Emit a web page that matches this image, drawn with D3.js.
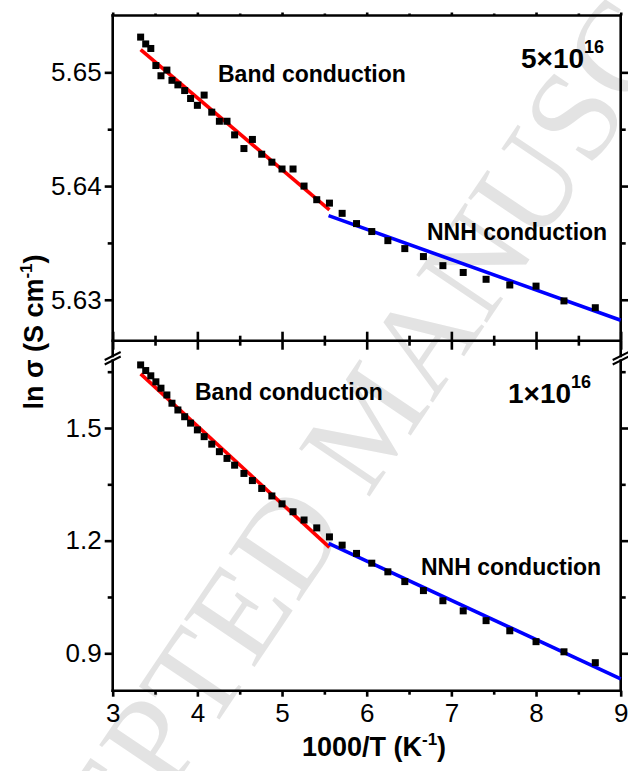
<!DOCTYPE html>
<html>
<head>
<meta charset="utf-8">
<script src="https://cdn.jsdelivr.net/npm/d3@7"></script>
<style>
  html, body { margin: 0; padding: 0; background: #fff; }
  svg { display: block; }
  text { font-family: "Liberation Sans", Arial, Helvetica, sans-serif; }
</style>
</head>
<body>
<svg id="chart" width="628" height="771"></svg>
<script>
// 1000/T (K^-1) of each measurement
const invT = [3.33, 3.39, 3.45, 3.51, 3.57, 3.64, 3.70, 3.77, 3.85, 3.92,
              4.00, 4.08, 4.17, 4.26, 4.35, 4.44, 4.55, 4.65, 4.76, 4.88,
              5.00, 5.13, 5.26, 5.41, 5.56, 5.71, 5.88, 6.06, 6.25, 6.45,
              6.67, 6.90, 7.14, 7.41, 7.69, 8.00, 8.33, 8.70];

// ln sigma, 5x10^16 sample
const lnSigmaHigh = [5.6531, 5.6525, 5.6521, 5.6506, 5.6497, 5.6502, 5.6493, 5.6489, 5.6484, 5.6477,
                     5.6471, 5.6480, 5.6465, 5.6457, 5.6457, 5.6445, 5.6433, 5.6441, 5.6428, 5.6421,
                     5.6415, 5.6415, 5.6400, 5.6388, 5.6385, 5.6376, 5.6367, 5.6360, 5.6352, 5.6345,
                     5.6338, 5.6330, 5.6324, 5.6318, 5.6313, 5.6312, 5.6299, 5.6293];

// ln sigma, 1x10^16 sample
const lnSigmaLow = [1.668, 1.653, 1.639, 1.623, 1.606, 1.588, 1.566, 1.548, 1.530, 1.513,
                    1.495, 1.477, 1.457, 1.437, 1.419, 1.401, 1.379, 1.360, 1.339, 1.319,
                    1.298, 1.277, 1.255, 1.234, 1.210, 1.188, 1.166, 1.140, 1.117, 1.091,
                    1.067, 1.040, 1.013, 0.987, 0.960, 0.931, 0.904, 0.875];

// Linear fits: band conduction (red) and nearest-neighbour hopping (blue)
const bandFitX = [3.33, 5.56];
const bandFitHigh = [5.6520, 5.6379];
const bandFitLow = [1.644, 1.182];
const nnhFitX = [5.55, 9.0];
const nnhFitHigh = [5.6374, 5.6282];
const nnhFitLow = [1.193, 0.832];

// Axis ticks
const xTicks = [3, 4, 5, 6, 7, 8, 9];
const xMinorTicks = [3.5, 4.5, 5.5, 6.5, 7.5, 8.5];
const yTicksHigh = [5.63, 5.64, 5.65];
const yMinorHigh = [5.635, 5.645];
const yTicksLow = [0.9, 1.2, 1.5];
const yMinorLow = [1.05, 1.35, 1.65];

const svg = d3.select("#chart");

const L = 112.7, R = 620.7, T = 15.5, M = 340.7, B = 690.7;

const x = d3.scaleLinear().domain([3, 9]).range([L, R]);
const yHigh = d3.scaleLinear().domain([5.6264, 5.6550]).range([M, T]);
const yLow = d3.scaleLinear().domain([0.8004, 1.7325]).range([B, M]);

// Watermark
svg.append("text")
  .attr("transform", "translate(405,444) rotate(-56)")
  .attr("text-anchor", "middle")
  .style("font-family", "'Liberation Serif', 'Times New Roman', serif")
  .style("font-size", "130px")
  .attr("fill", "#e3e3e3")
  .text("ACCEPTED MANUSCRIPT");

const axisColor = "#000";
const axisW = 2.6;

function styleAxis(g) {
  g.select(".domain").remove();
  g.selectAll(".tick line").attr("stroke", axisColor).attr("stroke-width", axisW);
  g.selectAll(".tick text")
    .attr("fill", "#000")
    .style("font-family", "'Liberation Sans', Arial, sans-serif");
}

// Left axis, upper part
svg.append("g").attr("transform", `translate(${L},0)`)
  .call(d3.axisLeft(yHigh).tickValues(yTicksHigh).tickFormat(d3.format(".2f")).tickSize(8).tickPadding(3))
  .call(styleAxis)
  .call(g => g.selectAll(".tick text").style("font-size", "26px"));
svg.append("g").attr("transform", `translate(${L},0)`)
  .call(d3.axisLeft(yHigh).tickValues(yMinorHigh).tickFormat("").tickSize(5))
  .call(styleAxis);

// Left axis, lower part
svg.append("g").attr("transform", `translate(${L},0)`)
  .call(d3.axisLeft(yLow).tickValues(yTicksLow).tickFormat(d3.format(".1f")).tickSize(8).tickPadding(3))
  .call(styleAxis)
  .call(g => g.selectAll(".tick text").style("font-size", "26px"));
svg.append("g").attr("transform", `translate(${L},0)`)
  .call(d3.axisLeft(yLow).tickValues(yMinorLow).tickFormat("").tickSize(5))
  .call(styleAxis);

// Right axis ticks
[[yHigh, yTicksHigh, 8], [yHigh, yMinorHigh, 5], [yLow, yTicksLow, 8], [yLow, yMinorLow, 5]].forEach(([sc, tv, sz]) => {
  svg.append("g").attr("transform", `translate(${R},0)`)
    .call(d3.axisRight(sc).tickValues(tv).tickFormat("").tickSize(sz))
    .call(styleAxis);
});

// Bottom axis
svg.append("g").attr("transform", `translate(0,${B})`)
  .call(d3.axisBottom(x).tickValues(xTicks).tickFormat(d3.format("d")).tickSize(6).tickPadding(7))
  .call(styleAxis)
  .call(g => g.selectAll(".tick text").style("font-size", "26px"));
svg.append("g").attr("transform", `translate(0,${B})`)
  .call(d3.axisBottom(x).tickValues(xMinorTicks).tickFormat("").tickSize(4))
  .call(styleAxis);

// Middle axis: ticks crossing the line
[[xTicks, 9], [xMinorTicks, 5]].forEach(([tv, sz]) => {
  svg.append("g").attr("transform", `translate(0,${M})`)
    .call(d3.axisBottom(x).tickValues(tv).tickFormat("").tickSize(sz))
    .call(styleAxis);
  svg.append("g").attr("transform", `translate(0,${M})`)
    .call(d3.axisTop(x).tickValues(tv).tickFormat("").tickSize(sz))
    .call(styleAxis);
});

// Top axis: short ticks
[[xTicks, 3], [xMinorTicks, 2]].forEach(([tv, sz]) => {
  svg.append("g").attr("transform", `translate(0,${T})`)
    .call(d3.axisTop(x).tickValues(tv).tickFormat("").tickSize(sz))
    .call(styleAxis);
});

// Frame lines (with the axis break between the two ranges)
const brk1 = 356, brk2 = 360.5;
const frame = [
  [L, T, R, T], [L, M, R, M], [L, B, R, B],
  [L, T, L, brk1], [L, brk2, L, B],
  [R, T, R, brk1], [R, brk2, R, B]
];
svg.append("g").selectAll("line").data(frame).join("line")
  .attr("x1", d => d[0]).attr("y1", d => d[1]).attr("x2", d => d[2]).attr("y2", d => d[3])
  .attr("stroke", axisColor).attr("stroke-width", axisW).attr("stroke-linecap", "square");

// Break marks
const breaks = [];
[L, R].forEach(ax => [brk1, brk2].forEach(by => breaks.push([ax - 8, by + 4, ax + 8, by - 4])));
svg.append("g").selectAll("line").data(breaks).join("line")
  .attr("x1", d => d[0]).attr("y1", d => d[1]).attr("x2", d => d[2]).attr("y2", d => d[3])
  .attr("stroke", "#000").attr("stroke-width", 2);

// Fit lines
const fitLine = (xs, ys, sc) => d3.line().x((d, i) => x(xs[i])).y(d => sc(d))(ys);
[[bandFitX, bandFitHigh, yHigh, "#ff0000"], [nnhFitX, nnhFitHigh, yHigh, "#0000ff"],
 [bandFitX, bandFitLow, yLow, "#ff0000"], [nnhFitX, nnhFitLow, yLow, "#0000ff"]].forEach(([xs, ys, sc, c]) => {
  svg.append("path").attr("d", fitLine(xs, ys, sc))
    .attr("fill", "none").attr("stroke", c).attr("stroke-width", 3.6);
});

// Data points
const sq = 7;
[[lnSigmaHigh, yHigh], [lnSigmaLow, yLow]].forEach(([vals, sc]) => {
  svg.append("g").selectAll("rect").data(vals).join("rect")
    .attr("x", (d, i) => x(invT[i]) - sq / 2)
    .attr("y", d => sc(d) - sq / 2)
    .attr("width", sq).attr("height", sq)
    .attr("fill", "#000");
});

// Annotations
function label(txt, px, py, size) {
  svg.append("text").attr("x", px).attr("y", py)
    .style("font-size", size + "px").style("font-weight", "bold").attr("fill", "#000").text(txt);
}
label("Band conduction", 218, 81.5, 23);
label("NNH conduction", 427, 240, 23);
label("Band conduction", 195, 400, 23);
label("NNH conduction", 421, 575, 23);

function conc(mant, px, py) {
  const t = svg.append("text").attr("x", px).attr("y", py)
    .style("font-size", "28px").style("font-weight", "bold").attr("fill", "#000");
  t.append("tspan").text(mant + "\u00d710");
  t.append("tspan").attr("dy", -15).style("font-size", "18px").text("16");
}
conc("5", 521, 68);
conc("1", 508, 403);

// Axis titles
const xt = svg.append("text").attr("x", 374).attr("y", 756).attr("text-anchor", "middle")
  .style("font-size", "27px").style("font-weight", "bold");
xt.append("tspan").text("1000/T (K");
xt.append("tspan").attr("dy", -11).style("font-size", "17px").text("-1");
xt.append("tspan").attr("dy", 11).text(")");

const yt = svg.append("text").attr("transform", "translate(43,332) rotate(-90)").attr("text-anchor", "middle")
  .style("font-size", "27px").style("font-weight", "bold");
yt.append("tspan").text("ln \u03c3 (S cm");
yt.append("tspan").attr("dy", -11).style("font-size", "17px").text("-1");
yt.append("tspan").attr("dy", 11).text(")");
</script>
</body>
</html>
